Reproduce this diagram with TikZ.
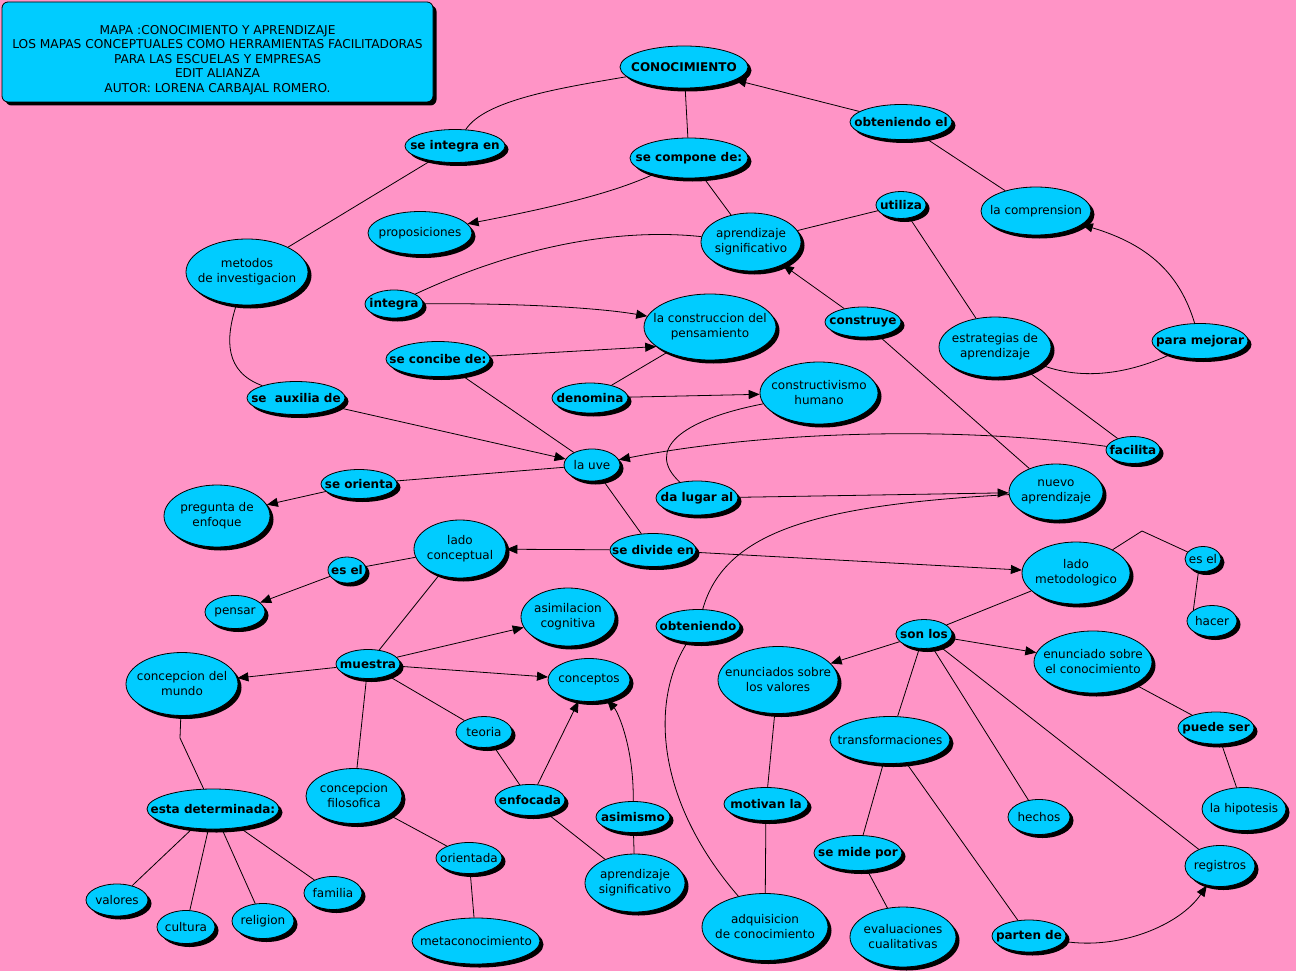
\documentclass[tikz,border=0pt]{standalone}
\usepackage{fontspec}
\setmainfont{DejaVu Sans}
\usetikzlibrary{shapes.geometric,shadows,arrows.meta}
\definecolor{rosa}{RGB}{255,148,198}
\definecolor{celeste}{RGB}{0,204,255}
\newcommand{\letra}{\fontsize{12}{15}\selectfont}
\tikzset{
  sombra/.style={drop shadow={shadow xshift=3.5pt, shadow yshift=-3.5pt, fill=black, opacity=1}},
  base/.style={ellipse, draw=black, line width=0.8pt, fill=celeste, inner sep=0pt, sombra},
  concepto/.style={base, label={[font=\letra, align=center, inner sep=0pt]center:{#1}}},
  enlace/.style={base, label={[font=\letra\bfseries, align=center, inner sep=0pt]center:{#1}}},
  tam/.style 2 args={minimum width=#1pt, minimum height=#2pt},
  con/.style={line width=0.8pt},
}

\begin{document}
\begin{tikzpicture}[x=1pt, y=-1pt, >={Triangle[length=11pt,width=9pt]}]
  \fill[rosa] (0,0) rectangle (1296,971);
  \useasboundingbox (0,0) rectangle (1296,971);

  % titulo
  \node[draw=black, line width=0.8pt, fill=celeste, rounded corners=6pt, sombra,
    minimum width=431pt, minimum height=100pt,
    label={[align=center, yshift=-8pt, font=\fontsize{12.2}{14.5}\selectfont]center:{%
      MAPA :CONOCIMIENTO Y APRENDIZAJE\\
      LOS MAPAS CONCEPTUALES COMO HERRAMIENTAS FACILITADORAS\\
      PARA LAS ESCUELAS Y EMPRESAS\\ EDIT ALIANZA\\
      AUTOR: LORENA CARBAJAL ROMERO.}}] (titulo) at (217.5,52) {};

  % conceptos y enlaces
  \node[enlace={CONOCIMIENTO}, tam={128}{42}] (conocimiento) at (684,67) {};
  \node[enlace={se integra en}, tam={100}{33}] (seintegra) at (455,146) {};
  \node[enlace={se compone de:}, tam={118}{40}] (secompone) at (689,158) {};
  \node[enlace={obteniendo el}, tam={102}{35}] (obtenidoel) at (901,122) {};
  \node[concepto={la comprension}, tam={110}{48}] (comprension) at (1036,211) {};
  \node[enlace={utiliza}, tam={50}{27}] (utiliza) at (901,205) {};
  \node[concepto={proposiciones}, tam={104}{43}] (proposiciones) at (420,233) {};
  \node[concepto={aprendizaje\\significativo}, tam={100}{58}] (aprendsig) at (751,242) {};
  \node[concepto={metodos\\de investigacion}, tam={122}{66}] (metodos) at (247,272) {};
  \node[enlace={integra}, tam={58}{28}] (integra) at (394,304) {};
  \node[concepto={la construccion del\\pensamiento}, tam={132}{66}] (construccion) at (710,327) {};
  \node[enlace={construye}, tam={76}{30}] (construye) at (863,322) {};
  \node[concepto={estrategias de\\aprendizaje}, tam={112}{60}] (estrategias) at (995,347) {};
  \node[enlace={para mejorar}, tam={96}{35}] (paramejorar) at (1200,341) {};
  \node[enlace={se concibe de:}, tam={104}{35}] (seconcibe) at (438,359) {};
  \node[enlace={se\ \ auxilia de}, tam={98}{33}] (seauxilia) at (296,398) {};
  \node[enlace={denomina}, tam={76}{30}] (denomina) at (590,398) {};
  \node[concepto={constructivismo\\humano}, tam={118}{62}] (constructivismo) at (819,393) {};
  \node[enlace={facilita}, tam={54}{27}] (facilita) at (1133,450) {};
  \node[concepto={la uve}, tam={56}{32}] (launa) at (592,465) {};
  \node[enlace={se orienta}, tam={76}{29}] (seorienta) at (359,484) {};
  \node[concepto={pregunta de\\enfoque}, tam={106}{62}] (pregunta) at (217,516) {};
  \node[enlace={da lugar al}, tam={82}{34}] (dalugar) at (697,498) {};
  \node[concepto={nuevo\\aprendizaje}, tam={94}{56}] (nuevo) at (1056,492) {};
  \node[concepto={lado\\conceptual}, tam={92}{58}] (ladoconc) at (460,549) {};
  \node[enlace={se divide en}, tam={86}{33}] (sedivide) at (653,550) {};
  \node[concepto={lado\\metodologico}, tam={108}{62}] (ladometod) at (1076,573) {};
  \node[concepto={es el}, tam={36}{25}] (esel2) at (1203,559) {};
  \node[enlace={es el}, tam={38}{26}] (esel1) at (347,570) {};
  \node[concepto={hacer}, tam={50}{31}] (hacer) at (1212,621) {};
  \node[concepto={pensar}, tam={60}{33}] (pensar) at (235,612) {};
  \node[concepto={asimilacion\\cognitiva}, tam={94}{58}] (asimilacion) at (568,617) {};
  \node[enlace={obteniendo}, tam={84}{33}] (obteniendo) at (698,626) {};
  \node[enlace={son los}, tam={56}{29}] (sonlos) at (924,634) {};
  \node[concepto={enunciado sobre\\el conocimiento}, tam={118}{62}] (enunconoc) at (1093,662) {};
  \node[concepto={concepcion del\\mundo}, tam={112}{63}] (concmundo) at (182,684) {};
  \node[enlace={muestra}, tam={64}{29}] (muestra) at (368,664) {};
  \node[concepto={conceptos}, tam={82}{43}] (conceptos) at (589,680) {};
  \node[concepto={enunciados sobre\\los valores}, tam={120}{67}] (enunvalores) at (778,680) {};
  \node[concepto={teoria}, tam={56}{31}] (teoria) at (484,732) {};
  \node[concepto={transformaciones}, tam={120}{47}] (transform) at (890,740) {};
  \node[enlace={puede ser}, tam={76}{32}] (puedeser) at (1216,728) {};
  \node[concepto={concepcion\\filosofica}, tam={96}{55}] (concfilos) at (354,796) {};
  \node[enlace={esta determinada:}, tam={132}{40}] (estadet) at (213,809) {};
  \node[enlace={enfocada}, tam={70}{31}] (enfocada) at (530,800) {};
  \node[enlace={asimismo}, tam={74}{31}] (asimismo) at (633,817) {};
  \node[enlace={motivan la}, tam={84}{33}] (motivan) at (766,804) {};
  \node[concepto={hechos}, tam={62}{35}] (hechos) at (1039,817) {};
  \node[concepto={la hipotesis}, tam={84}{43}] (hipotesis) at (1244,809) {};
  \node[enlace={se mide por}, tam={88}{35}] (semide) at (858,853) {};
  \node[concepto={registros}, tam={70}{41}] (registros) at (1220,866) {};
  \node[concepto={orientada}, tam={66}{31}] (orientada) at (469,858) {};
  \node[concepto={familia}, tam={58}{33}] (familia) at (333,893) {};
  \node[concepto={valores}, tam={62}{32}] (valores) at (117,900) {};
  \node[concepto={cultura}, tam={58}{33}] (cultura) at (186,927) {};
  \node[concepto={religion}, tam={62}{35}] (religion) at (263,921) {};
  \node[concepto={metaconocimiento}, tam={128}{46}] (metacon) at (476,941) {};
  \node[concepto={aprendizaje\\significativo}, tam={100}{58}] (aprendsig2) at (635,883) {};
  \node[concepto={adquisicion\\de conocimiento}, tam={126}{67}] (adquisicion) at (765,927) {};
  \node[concepto={evaluaciones\\cualitativas}, tam={106}{60}] (evaluaciones) at (903,937) {};
  \node[enlace={parten de}, tam={74}{32}] (partende) at (1029,936) {};

  \coordinate (codoa) at (1142,531);
  \coordinate (codob) at (180,738);

  % conexiones
  \draw[con] (conocimiento) .. controls (560,88) and (485,100) .. (seintegra);
  \draw[con] (seintegra) -- (metodos);
  \draw[con] (conocimiento) -- (secompone);
  \draw[con,->] (secompone) .. controls (615,192) and (560,206) .. (proposiciones);
  \draw[con] (secompone) -- (aprendsig);
  \draw[con,->] (obtenidoel) -- (conocimiento);
  \draw[con] (comprension) -- (obtenidoel);
  \draw[con] (aprendsig) -- (utiliza);
  \draw[con] (utiliza) -- (estrategias);
  \draw[con,->] (paramejorar) .. controls (1180,275) and (1150,245) .. (comprension);
  \draw[con] (estrategias) .. controls (1080,380) and (1125,375) .. (paramejorar);
  \draw[con,->] (construye) -- (aprendsig);
  \draw[con] (construye) -- (nuevo);
  \draw[con] (aprendsig) .. controls (640,230) and (540,236) .. (integra);
  \draw[con,->] (integra) .. controls (520,303) and (600,308) .. (construccion);
  \draw[con,->] (seconcibe) -- (construccion.200);
  \draw[con] (seconcibe) -- (launa);
  \draw[con] (construccion) -- (denomina);
  \draw[con,->] (denomina) -- (constructivismo);
  \draw[con] (constructivismo) .. controls (680,420) and (645,450) .. (dalugar);
  \draw[con,->] (dalugar) -- (nuevo);
  \draw[con] (metodos) .. controls (225,340) and (225,372) .. (seauxilia);
  \draw[con,->] (seauxilia) -- (launa);
  \draw[con] (estrategias) -- (facilita);
  \draw[con,->] (facilita) .. controls (950,425) and (760,432) .. (launa);
  \draw[con] (launa) -- (seorienta);
  \draw[con,->] (seorienta) -- (pregunta);
  \draw[con] (launa) -- (sedivide);
  \draw[con,->] (sedivide) -- (ladoconc);
  \draw[con,->] (sedivide) -- (ladometod);
  \draw[con] (ladometod) -- (codoa) -- (esel2);
  \draw[con] (esel2.250) -- (hacer.150);
  \draw[con] (ladoconc) -- (esel1);
  \draw[con,->] (esel1) -- (pensar);
  \draw[con] (ladoconc) -- (muestra);
  \draw[con,->] (muestra) -- (asimilacion);
  \draw[con,->] (muestra) -- (conceptos);
  \draw[con,->] (muestra) -- (concmundo);
  \draw[con] (muestra) -- (teoria);
  \draw[con] (muestra) -- (concfilos);
  \draw[con] (concmundo) -- (codob) -- (estadet);
  \foreach \h in {valores, cultura, religion, familia}
    \draw[con] (estadet) -- (\h);
  \draw[con] (concfilos) -- (orientada);
  \draw[con] (orientada) -- (metacon);
  \draw[con] (teoria) -- (enfocada);
  \draw[con,->] (enfocada) -- (conceptos);
  \draw[con,->] (asimismo) .. controls (634,748) and (618,712) .. (conceptos);
  \draw[con] (enfocada) -- (aprendsig2);
  \draw[con] (asimismo) -- (aprendsig2);
  \draw[con] (nuevo) .. controls (820,505) and (725,530) .. (obteniendo);
  \draw[con] (obteniendo) .. controls (650,700) and (655,800) .. (adquisicion);
  \draw[con] (ladometod) -- (sonlos);
  \draw[con,->] (sonlos) -- (enunvalores);
  \draw[con,->] (sonlos) -- (enunconoc);
  \draw[con] (sonlos) -- (transform);
  \draw[con] (sonlos) -- (hechos);
  \draw[con] (sonlos) -- (registros);
  \draw[con] (enunconoc) -- (puedeser);
  \draw[con] (puedeser) -- (hipotesis);
  \draw[con] (enunvalores) -- (motivan);
  \draw[con] (motivan) -- (adquisicion);
  \draw[con] (transform) -- (semide);
  \draw[con] (semide) -- (evaluaciones);
  \draw[con] (transform) -- (partende);
  \draw[con,->] (partende) .. controls (1120,950) and (1180,925) .. (registros);
\end{tikzpicture}
\end{document}
